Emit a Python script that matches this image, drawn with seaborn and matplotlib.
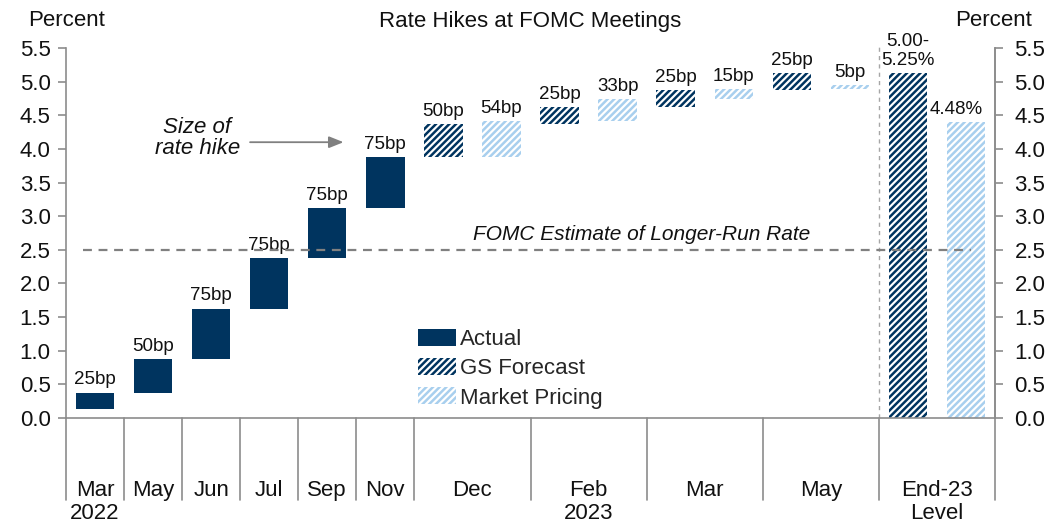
import numpy as np
import pandas as pd
import matplotlib
matplotlib.use("Agg")
import matplotlib.pyplot as plt
from matplotlib.patches import Patch
import seaborn as sns

# ---------------- data ----------------
actual_months = ["Mar\n2022", "May", "Jun", "Jul", "Sep", "Nov"]
actual_hikes_bp = [25, 50, 75, 75, 75, 75]
forecast_months = ["Dec", "Feb\n2023", "Mar", "May"]
gs_hikes_bp = [50, 25, 25, 25]
market_hikes_bp = [54, 33, 15, 5]
level_category = "End-23\nLevel"
start_rate = 0.125
gs_end_level = 5.125
market_end_level = 4.40
gs_end_text = "5.00-\n5.25%"
market_end_text = "4.48%"
longrun_rate = 2.5
longrun_text = "FOMC Estimate of Longer-Run Rate"
series_names = ["Actual", "GS Forecast", "Market Pricing"]
y_ticks = [0.0, 0.5, 1.0, 1.5, 2.0, 2.5, 3.0, 3.5, 4.0, 4.5, 5.0, 5.5]
title = "Rate Hikes at FOMC Meetings"
y_label = "Percent"
annot_text = "Size of\nrate hike"

# ---------------- build table ----------------
rows = []
level = start_rate
pos = 0
for m, bp in zip(actual_months, actual_hikes_bp):
    rows.append(dict(pos=pos, bottom=level, height=bp / 100, series="Actual", label=f"{bp}bp"))
    level += bp / 100
    pos += 1
gs_level = level
mk_level = level
for m, g, k in zip(forecast_months, gs_hikes_bp, market_hikes_bp):
    rows.append(dict(pos=pos, bottom=gs_level, height=g / 100, series="GS Forecast", label=f"{g}bp"))
    rows.append(dict(pos=pos + 1, bottom=mk_level, height=k / 100, series="Market Pricing", label=f"{k}bp"))
    gs_level += g / 100
    mk_level += k / 100
    pos += 2
rows.append(dict(pos=pos, bottom=0.0, height=gs_end_level, series="GS Forecast", label=gs_end_text))
rows.append(dict(pos=pos + 1, bottom=0.0, height=market_end_level, series="Market Pricing", label=market_end_text))
df = pd.DataFrame(rows).sort_values("pos").reset_index(drop=True)

# category layout: single slots, then double slots
cat_labels = actual_months + forecast_months + [level_category]
cat_centers = list(range(len(actual_months)))
start = len(actual_months)
for i in range(len(forecast_months) + 1):
    cat_centers.append(start + 2 * i + 0.5)
boundaries = [c - 0.5 for c in range(len(actual_months) + 1)] + \
             [start + 2 * i + 1.5 for i in range(len(forecast_months) + 1)]

# ---------------- style ----------------
sns.set_style("white")
plt.rcParams["font.family"] = ["Liberation Sans", "DejaVu Sans"]
plt.rcParams["hatch.linewidth"] = 1.8

navy = "#00345F"
light = "#A8CFEE"
grey = "#8C8C8C"
hatch = "/////"
colors = {"Actual": navy, "GS Forecast": navy, "Market Pricing": light}

fig = plt.figure(figsize=(10.61, 5.23), dpi=100)
ax = fig.add_axes([0.0622, 0.2013, 0.8756, 0.7067])

sns.barplot(data=df, x="pos", y="height", bottom=df["bottom"].values,
            native_scale=True, width=0.66, errorbar=None, color=navy,
            ax=ax, legend=False)

for patch, (_, r) in zip(ax.patches, df.iterrows()):
    patch.set_linewidth(0)
    if r["series"] == "Actual":
        patch.set_facecolor(navy)
        patch.set_edgecolor(navy)
    else:
        patch.set_facecolor("white")
        patch.set_edgecolor(colors[r["series"]])
        patch.set_hatch(hatch)

# value labels
for _, r in df.iterrows():
    top = r["bottom"] + r["height"]
    dx = -7 if r["label"] == market_end_text else 0
    ax.annotate(r["label"], (r["pos"], top), xytext=(dx, 3), textcoords="offset points",
                ha="center", va="bottom", fontsize=13.5, color="#111111", linespacing=1.15)

ax.set_xlim(-0.5, 15.5)
ax.set_ylim(0, 5.5)
ax.set_xlabel("")
ax.set_ylabel("")
ax.set_xticks([])
ax.set_yticks(y_ticks)
ax.set_yticklabels([f"{t:.1f}" for t in y_ticks])
ax.tick_params(axis="y", which="both", left=True, direction="out", length=6, width=1.2,
               color=grey, labelsize=16, pad=5, labelcolor="#111111")

for s in ["top"]:
    ax.spines[s].set_visible(False)
for s in ["left", "bottom", "right"]:
    ax.spines[s].set_color(grey)
    ax.spines[s].set_linewidth(1.2)

ax2 = ax.twinx()
ax2.set_ylim(0, 5.5)
ax2.set_yticks(y_ticks)
ax2.set_yticklabels([f"{t:.1f}" for t in y_ticks])
ax2.tick_params(axis="y", right=True, direction="out", length=6, width=1.2,
                color=grey, labelsize=16, pad=8, labelcolor="#111111")
for s in ["top", "left", "bottom"]:
    ax2.spines[s].set_visible(False)
ax2.spines["right"].set_color(grey)
ax2.spines["right"].set_linewidth(1.2)

# category separators and labels below the axis
xtrans = ax.get_xaxis_transform()
for b in boundaries:
    ax.plot([b, b], [0, -0.223], color=grey, lw=1.2, transform=xtrans, clip_on=False)
for c, lab in zip(cat_centers, cat_labels):
    ax.text(c, -0.168, lab, transform=xtrans, ha="center", va="top", fontsize=16,
            linespacing=1.12, color="#111111")

# longer-run rate
ax.plot([-0.21, 15.09], [longrun_rate, longrun_rate], color="#808080", lw=1.6,
        dashes=(4, 3), zorder=3)
ax.text(9.41, 2.73, longrun_text, ha="center", va="center", fontsize=15,
        style="italic", color="#111111")

# divider before End-23 level
ax.plot([13.5, 13.5], [0, 5.57], color="#A6A6A6", lw=1.0, dashes=(3, 3), clip_on=False)

# annotation
ax.text(1.76, 4.16, annot_text, ha="center", va="center", fontsize=16, style="italic",
        linespacing=1.0, color="#111111")
ax.annotate("", xy=(4.28, 4.10), xytext=(2.67, 4.10),
            arrowprops=dict(arrowstyle="-|>,head_length=0.55,head_width=0.22",
                            color="#808080", lw=1.3, mutation_scale=16, shrinkA=0, shrinkB=0))

# legend
handles = [Patch(facecolor=navy, edgecolor=navy, lw=0),
           Patch(facecolor="white", edgecolor=navy, hatch=hatch, lw=0),
           Patch(facecolor="white", edgecolor=light, hatch=hatch, lw=0)]
ax2.legend(handles, series_names, loc="upper left", bbox_to_anchor=(418 / 1061, 1 - 329 / 523),
           bbox_transform=fig.transFigure, frameon=False, fontsize=16, borderpad=0,
           borderaxespad=0, handlelength=1.7, handleheight=0.8, handletextpad=0.2,
           labelspacing=0.36)

# title and axis captions
fig.text(530 / 1061, 1 - 22 / 523, title, ha="center", va="center", fontsize=16, color="#111111")
fig.text(67 / 1061, 1 - 20 / 523, y_label, ha="center", va="center", fontsize=16, color="#111111")
fig.text(994 / 1061, 1 - 20 / 523, y_label, ha="center", va="center", fontsize=16, color="#111111")

fig.savefig("out.png", dpi=100)
